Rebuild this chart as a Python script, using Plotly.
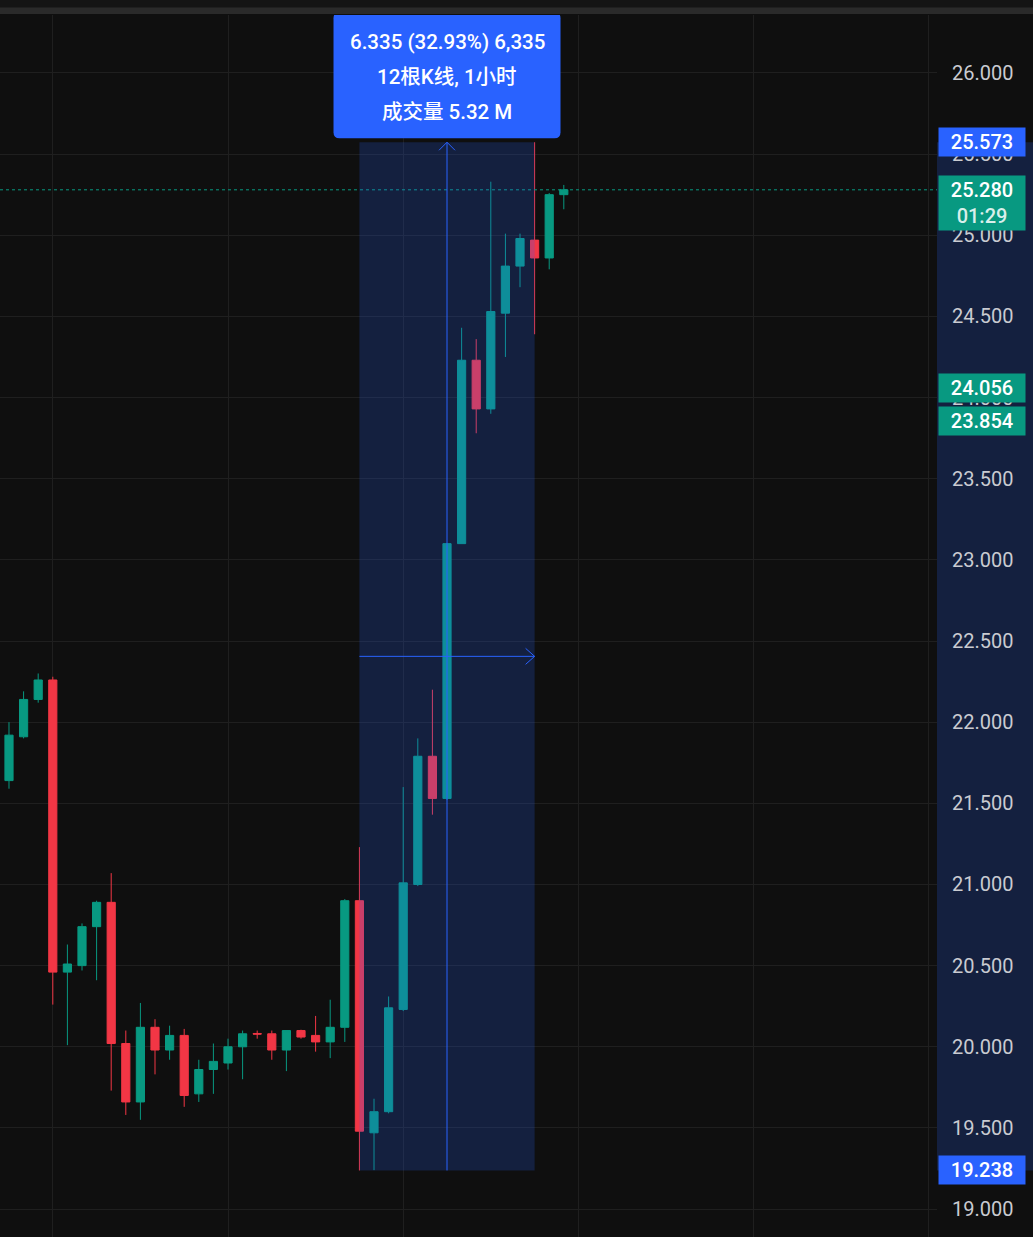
import plotly.graph_objects as go

# ---------------- data ----------------
bars = list(range(40))
opens = [21.45, 21.64, 21.91, 22.14, 22.26, 20.46, 20.50, 20.74, 20.89, 20.02,
         19.66, 20.12, 19.98, 20.07, 19.71, 19.86, 19.90, 20.00, 20.082, 20.08,
         19.98, 20.10, 20.07, 20.03, 20.12, 20.90, 19.47, 19.60, 20.23, 21.00,
         21.79, 21.53, 23.10, 24.23, 23.93, 24.52, 24.81, 24.97, 24.86, 25.25]
highs = [21.66, 22.00, 22.19, 22.30, 22.28, 20.63, 20.76, 20.90, 21.07, 20.10,
         20.27, 20.17, 20.13, 20.11, 19.92, 20.02, 20.05, 20.10, 20.10, 20.10,
         20.10, 20.105, 20.19, 20.29, 20.91, 21.23, 19.68, 20.31, 21.60, 21.90,
         22.20, 23.10, 24.43, 24.36, 25.33, 25.01, 25.01, 25.573, 25.26, 25.31]
lows = [21.40, 21.59, 21.90, 22.12, 20.26, 20.01, 20.47, 20.41, 19.73, 19.58,
        19.55, 19.83, 19.92, 19.63, 19.66, 19.71, 19.86, 19.80, 20.05, 19.92,
        19.85, 20.05, 19.97, 19.93, 20.03, 19.238, 19.24, 19.59, 20.22, 20.99,
        21.43, 21.52, 23.10, 23.78, 23.90, 24.25, 24.68, 24.39, 24.79, 25.16]
closes = [21.64, 21.92, 22.14, 22.26, 20.46, 20.51, 20.74, 20.89, 20.02, 19.66,
          20.12, 19.98, 20.07, 19.70, 19.86, 19.91, 20.00, 20.08, 20.078, 19.98,
          20.10, 20.06, 20.03, 20.12, 20.90, 19.48, 19.60, 20.24, 21.01, 21.79,
          21.53, 23.10, 24.23, 23.93, 24.53, 24.81, 24.98, 24.86, 25.25, 25.28]

y_ticks = [19.0, 19.5, 20.0, 20.5, 21.0, 21.5, 22.0, 22.5, 23.0, 23.5,
           24.0, 24.5, 25.0, 25.5, 26.0]
x_grid = [4, 16, 28, 40, 52, 64]

# measurement tool
m_start, m_end = 25, 37
m_low, m_high = 19.238, 25.573
info_lines = ["6.335 (32.93%) 6,335", "12根K线, 1小时", "成交量 5.32 M"]

last_price = 25.28
last_timer = "01:29"
extra_tags = [24.056, 23.854]

# ---------------- style ----------------
W, H = 1033, 1237
M_L, M_R, M_T, M_B = 0, 96, 15, 0
PW, PH = W - M_L - M_R, H - M_T - M_B
X_RANGE = [0.384, 64.56]
Y_RANGE = [18.828, 26.357]
BG = "#0f0f0f"
GRID = "#1f1f1f"
UP = "#089981"
DOWN = "#f23645"
BLUE = "#2962ff"
FONT = "Roboto, 'Noto Sans CJK SC', sans-serif"

dx_px = (X_RANGE[1] - X_RANGE[0]) / PW   # data units per pixel
dy_px = (Y_RANGE[1] - Y_RANGE[0]) / PH

fig = go.Figure()
fig.add_trace(go.Candlestick(
    x=bars, open=opens, high=highs, low=lows, close=closes,
    increasing=dict(line=dict(color=UP, width=1), fillcolor=UP),
    decreasing=dict(line=dict(color=DOWN, width=1), fillcolor=DOWN),
    whiskerwidth=0, hoverinfo="skip", showlegend=False,
))

shapes = []
# top strip
shapes.append(dict(type="rect", xref="paper", yref="paper", x0=0, x1=W / PW,
                   y0=1 + (M_T - 8) / PH, y1=1 + (M_T + 1) / PH,
                   fillcolor="#141414", line=dict(width=0), layer="below"))
shapes.append(dict(type="rect", xref="paper", yref="paper", x0=0, x1=W / PW,
                   y0=1 + 1 / PH, y1=1 + (M_T - 7.5) / PH,
                   fillcolor="#2a2a2a", line=dict(width=0), layer="below"))
# last price dotted line
shapes.append(dict(type="line", xref="paper", yref="y", x0=0, x1=1,
                   y0=last_price, y1=last_price,
                   line=dict(color=UP, width=1, dash="dot"), layer="above"))
# measurement rectangle
shapes.append(dict(type="rect", xref="x", yref="y", x0=m_start, x1=m_end,
                   y0=m_low, y1=m_high, fillcolor="rgba(41,98,255,0.2)",
                   line=dict(width=0), layer="above"))
# axis highlight
shapes.append(dict(type="rect", xref="paper", yref="y", x0=1, x1=W / PW,
                   y0=m_low, y1=m_high, fillcolor="rgba(41,98,255,0.2)",
                   line=dict(width=0), layer="below"))
mid_x = (m_start + m_end) / 2
mid_y = (m_low + m_high) / 2
# vertical arrow
shapes.append(dict(type="line", xref="x", yref="y", x0=mid_x, x1=mid_x,
                   y0=m_low, y1=m_high, line=dict(color=BLUE, width=1), layer="above"))
shapes.append(dict(type="path", xref="x", yref="y",
                   path=f"M {mid_x - 8*dx_px},{m_high - 8*dy_px} L {mid_x},{m_high} L {mid_x + 8*dx_px},{m_high - 8*dy_px}",
                   line=dict(color=BLUE, width=1), layer="above"))
# horizontal arrow
shapes.append(dict(type="line", xref="x", yref="y", x0=m_start, x1=m_end,
                   y0=mid_y, y1=mid_y, line=dict(color=BLUE, width=1), layer="above"))
shapes.append(dict(type="path", xref="x", yref="y",
                   path=f"M {m_end - 9*dx_px},{mid_y + 8*dy_px} L {m_end},{mid_y} L {m_end - 9*dx_px},{mid_y - 8*dy_px}",
                   line=dict(color=BLUE, width=1), layer="above"))


def rounded(x0, x1, y0, y1, rx, ry):
    return (f"M {x0 + rx},{y1} L {x1 - rx},{y1} Q {x1},{y1} {x1},{y1 - ry} "
            f"L {x1},{y0 + ry} Q {x1},{y0} {x1 - rx},{y0} L {x0 + rx},{y0} "
            f"Q {x0},{y0} {x0},{y0 + ry} L {x0},{y1 - ry} Q {x0},{y1} {x0 + rx},{y1} Z")


# info box
bx0 = mid_x - 113.5 * dx_px
bx1 = mid_x + 113.5 * dx_px
by0 = m_high + 4 * dy_px
by1 = m_high + 130 * dy_px
shapes.append(dict(type="path", xref="x", yref="y",
                   path=rounded(bx0, bx1, by0, by1, 6 * dx_px, 6 * dy_px),
                   fillcolor=BLUE, line=dict(width=0), layer="above"))

annotations = []
for txt, sh in zip(info_lines, [100, 65, 30]):
    annotations.append(dict(x=mid_x, y=m_high, xref="x", yref="y", text=txt,
                            showarrow=False, yanchor="middle", xanchor="center",
                            yshift=sh,
                            font=dict(color="white", size=20.5, family=FONT, weight=500)))

# axis tags
def tag(price, text, color, yshift=0, height=26):
    return dict(x=1 + 1 / PW, y=price, xref="paper", yref="y", text=text,
                showarrow=False, xanchor="left", yanchor="middle", yshift=yshift,
                bgcolor=color, width=84, height=height, borderpad=1, align="center",
                font=dict(color="white", size=20, family=FONT, weight=500))

annotations.append(tag(m_high, f"{m_high:.3f}", BLUE))
annotations.append(tag(m_low, f"{m_low:.3f}", BLUE))
for p in extra_tags:
    annotations.append(tag(p, f"{p:.3f}", UP))
annotations.append(tag(last_price,
                       f"{last_price:.3f}<br><span style='color:rgba(255,255,255,0.85)'>{last_timer}</span>",
                       UP, yshift=-13, height=52))

fig.update_layout(
    width=W, height=H,
    margin=dict(l=M_L, r=M_R, t=M_T, b=M_B),
    paper_bgcolor=BG, plot_bgcolor=BG,
    showlegend=False, hovermode=False,
    boxgap=0.2,
    font=dict(family=FONT, color="#c9cbd1", size=20),
    xaxis=dict(range=X_RANGE, tickvals=x_grid, showticklabels=False,
               showgrid=True, gridcolor=GRID, gridwidth=1, zeroline=False,
               showline=False, ticks="", rangeslider=dict(visible=False),
               fixedrange=True),
    yaxis=dict(range=Y_RANGE, side="right", tickvals=y_ticks, tickformat=".3f",
               showgrid=True, gridcolor=GRID, gridwidth=1, zeroline=False,
               showline=False, ticks="", ticklabelstandoff=14,
               tickfont=dict(size=20, color="#c9cbd1", family=FONT),
               fixedrange=True),
    shapes=shapes, annotations=annotations,
)

fig.write_html("out.html", config={"displayModeBar": False},
               post_script="document.body.style.margin='0';document.body.style.background='#0f0f0f';")
